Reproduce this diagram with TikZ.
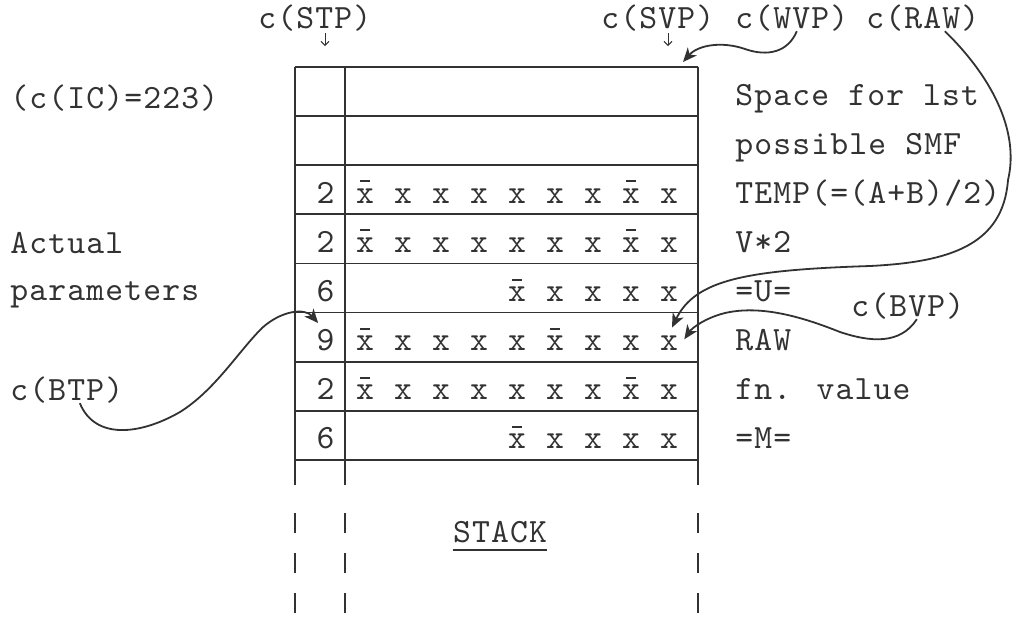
\documentclass[tikz,border=0pt]{standalone}
\usepackage{fontspec}
\newfontfamily\twfont{lmmono10-regular.otf}[LetterSpace=3.4]
\usepackage{tikz}
\usetikzlibrary{arrows.meta,calc}
\definecolor{inkgray}{RGB}{50,50,50}
\tikzset{tw/.style={font=\twfont\fontsize{17pt}{19pt}\selectfont, text=inkgray, inner sep=0pt, anchor=base west}, cellx/.style={font=\twfont\fontsize{17pt}{19pt}\selectfont, text=inkgray, inner sep=0pt, anchor=base}, grid/.style={draw=inkgray, line width=0.9pt}, xbar/.style={draw=inkgray, line width=1pt}, ptr/.style={draw=inkgray, line width=0.9pt, -{Stealth[length=7pt,width=6pt,inset=2pt]}}, tick/.style={draw=inkgray, line width=0.5pt, -{Straight Barb[length=2pt,width=4pt]}}}

\begin{document}
\begin{tikzpicture}[x=0.5pt,y=-0.5pt]
\useasboundingbox (0,0) rectangle (1012,629);
\foreach \i in {0,...,8} {\draw[grid] (295,{67+49.1*\i}) -- (698,{67+49.1*\i});}
\foreach \c in {295,345,698} {\draw[grid] (\c,67) -- (\c,485); \draw[grid, dash pattern=on 10pt off 10pt] (\c,513) -- (\c,629);}
\foreach \row/\d in {3/2,4/2,5/6,6/9,7/2,8/6} {\node[cellx] (n-\row) at (325.5,{56+49.1*\row}) {\d};}
\foreach \row/\from/\barred in {3/1/{1,8},4/1/{1,8},5/5/{5},6/1/{1,6},7/1/{1,8},8/5/{5}} {
  \foreach \k in {\from,...,9} {\node[cellx] (x-\row-\k) at ({365+38*(\k-1)},{56+49.1*\row}) {x};}
  \foreach \k in \barred {\draw[xbar] ([xshift=-2.5pt,yshift=11pt]x-\row-\k.base) -- ++(10,0);}
}
\foreach \row/\txt in {1/{Space for lst},2/{possible SMF},3/{TEMP(=(A+B)/2)},4/{V*2},5/{=U=},6/{RAW},7/{fn. value},8/{=M=}} {\node[tw] (note-\row) at (735,{56+49.1*\row}) {\txt};}
\node[tw] (ic) at (10,108) {(c(IC)=223)};
\node[tw] (actual) at (10,253) {Actual};
\node[tw] (params) at (10,300) {parameters};
\node[tw] (btp) at (10,400) {c(BTP)};
\node[tw] (stp) at (258,28) {c(STP)};
\node[tw] (svp) at (601,28) {c(SVP)};
\node[tw] (wvp) at (735,28) {c(WVP)};
\node[tw] (raw) at (866,28) {c(RAW)};
\node[tw] (bvp) at (851,316) {c(BVP)};
\node[cellx] (stack) at (500,542) {STACK};
\draw[grid] ([yshift=-4pt]stack.base west) -- ([yshift=-4pt]stack.base east);
\coordinate (stp-a) at (325,33);
\coordinate (stp-b) at (325,46);
\coordinate (svp-a) at (668,33);
\coordinate (svp-b) at (668,46);
\coordinate (svp-tip) at (683,62);
\draw[tick] (stp-a) -- (stp-b);
\draw[tick] (svp-a) -- (svp-b);
\draw[ptr] ([xshift=2.5pt]wvp.south) .. controls (788,52) and (768,57) .. (745,49) .. controls (722,41) and (698,45) .. (svp-tip);
\draw[ptr] ([xshift=11pt]raw.south) .. controls (990,75) and (1020,130) .. (1008,180) .. controls (1003,245) and (950,262) .. (870,266) .. controls (745,270) and (695,280) .. ([xshift=1.5pt,yshift=4pt]x-6-9.north);
\draw[ptr] ([xshift=4.5pt]bvp.south) .. controls (900,345) and (870,342) .. (840,332) .. controls (800,316) and (760,305) .. (725,313) .. controls (705,318) and (692,328) .. ([xshift=3pt,yshift=2pt]x-6-9.east);
\draw[ptr] ([xshift=6.5pt]btp.south) .. controls (95,440) and (140,435) .. (180,412) .. controls (215,390) and (238,352) .. (262,328) .. controls (282,310) and (305,308) .. ([xshift=1pt,yshift=3pt]n-6.north west);
\end{tikzpicture}
\end{document}
